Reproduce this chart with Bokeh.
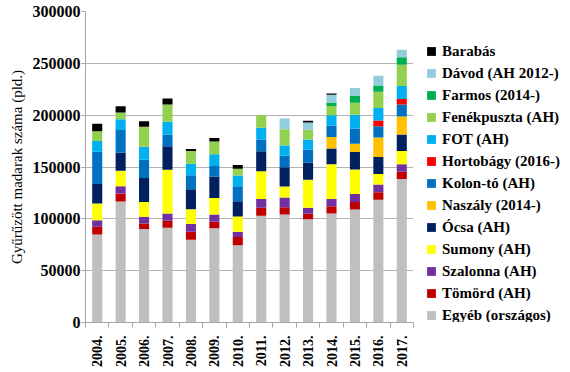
import math
from bokeh.plotting import figure
from bokeh.layouts import row
from bokeh.models import ColumnDataSource, FixedTicker, Legend, LegendItem, Range1d, BasicTickFormatter
from bokeh.embed import file_html
from bokeh.resources import INLINE

years = ["2004.", "2005.", "2006.", "2007.", "2008.", "2009.", "2010.",
         "2011.", "2012.", "2013.", "2014.", "2015.", "2016.", "2017."]

egyeb = [85000, 116700, 90100, 91300, 79800, 91000, 74400, 102900, 104200, 99600, 105100, 109000, 118300, 138500]
tomord = [7300, 7700, 5400, 6800, 7700, 6100, 8000, 7700, 7000, 5400, 7100, 7300, 7300, 7000]
szalonna = [6400, 7000, 6400, 7000, 7400, 7100, 5100, 8600, 9300, 5800, 7000, 7700, 7400, 7100]
sumony = [16000, 15100, 14400, 42300, 14400, 16000, 14700, 26600, 10600, 26900, 33400, 23700, 10300, 12800]
ocsa = [19000, 17300, 23100, 22500, 19200, 20500, 14800, 19300, 18600, 16500, 15300, 16700, 16300, 16000]
naszaly = [0, 0, 0, 0, 0, 0, 0, 0, 0, 0, 11100, 8000, 18900, 17300]
kolon = [31000, 21800, 17600, 11200, 13500, 10300, 14400, 11500, 11200, 12800, 11100, 14800, 10900, 11500]
hortobagy = [0, 0, 0, 0, 0, 0, 0, 0, 0, 0, 0, 0, 5500, 5500]
fot = [10500, 10500, 12500, 12500, 11200, 11200, 10300, 11200, 9900, 9500, 9900, 13100, 12100, 12500]
fenek = [9300, 6500, 19300, 16600, 12200, 12500, 6700, 12200, 15700, 9400, 8800, 11600, 15700, 20500]
farmos = [0, 0, 0, 0, 0, 0, 0, 0, 0, 0, 3500, 7000, 5800, 7100]
davod = [0, 0, 0, 0, 0, 0, 0, 0, 10300, 7000, 7300, 7400, 9600, 7300]
barabas = [7100, 6000, 5400, 5800, 1900, 3200, 3500, 0, 0, 1800, 1200, 0, 0, 0]

series_names = ["Egyéb (országos)", "Tömörd (AH)", "Szalonna (AH)", "Sumony (AH)", "Ócsa (AH)",
                "Naszály (2014-)", "Kolon-tó (AH)", "Hortobágy (2016-)", "FOT (AH)",
                "Fenékpuszta (AH)", "Farmos (2014-)", "Dávod (AH 2012-)", "Barabás"]
series_values = [egyeb, tomord, szalonna, sumony, ocsa, naszaly, kolon, hortobagy, fot,
                 fenek, farmos, davod, barabas]
colors = ["#bfbfbf", "#c00000", "#7030a0", "#ffff00", "#002060", "#ffc000", "#0070c0",
          "#ff0000", "#00b0f0", "#92d050", "#00b050", "#92cddc", "#000000"]

y_ticks = [0, 50000, 100000, 150000, 200000, 250000, 300000]

keys = ["s%d" % i for i in range(len(series_names))]
data = {"x": list(range(len(years)))}
for k, v in zip(keys, series_values):
    data[k] = v
source = ColumnDataSource(data)

H = 370
chart = figure(width=418, height=H, output_backend="svg", toolbar_location=None,
               x_range=Range1d(-0.5, len(years) - 0.5), y_range=Range1d(0, 300000),
               min_border_left=85, min_border_right=5, min_border_top=11, min_border_bottom=46)
chart.outline_line_color = None
chart.background_fill_color = "white"
chart.border_fill_color = "white"

chart.vbar_stack(keys, x="x", width=0.43, source=source, color=colors, line_color=None)

# x axis
chart.xaxis.ticker = FixedTicker(ticks=list(range(len(years))),
                                 minor_ticks=[i - 0.5 for i in range(len(years) + 1)])
chart.xaxis.major_label_overrides = {i: y for i, y in enumerate(years)}
chart.xaxis.major_label_orientation = math.pi / 2
chart.xaxis.major_tick_line_color = None
chart.xaxis.minor_tick_line_color = "#a6a6a6"
chart.xaxis.minor_tick_out = 5
chart.xaxis.minor_tick_in = 0
chart.xaxis.axis_line_color = "#a6a6a6"
chart.xaxis.major_label_text_font = "Liberation Serif"
chart.xaxis.major_label_text_font_style = "bold"
chart.xaxis.major_label_text_font_size = "14px"
chart.xaxis.major_label_text_color = "#000000"
chart.xaxis.major_label_standoff = 7
chart.xgrid.grid_line_color = None

# y axis
chart.yaxis.ticker = FixedTicker(ticks=y_ticks)
chart.yaxis.formatter = BasicTickFormatter(use_scientific=False)
chart.yaxis.axis_line_color = "#a6a6a6"
chart.yaxis.major_tick_line_color = "#a6a6a6"
chart.yaxis.major_tick_out = 4
chart.yaxis.major_tick_in = 0
chart.yaxis.minor_tick_line_color = None
chart.yaxis.major_label_text_font = "Liberation Serif"
chart.yaxis.major_label_text_font_style = "bold"
chart.yaxis.major_label_text_font_size = "16px"
chart.yaxis.major_label_text_color = "#000000"
chart.yaxis.major_label_standoff = 1
chart.yaxis.axis_label = "Gyűrűzött madarak száma (pld.)"
chart.yaxis.axis_label_text_font = "Liberation Serif"
chart.yaxis.axis_label_text_font_style = "normal"
chart.yaxis.axis_label_text_font_size = "15px"
chart.yaxis.axis_label_text_color = "#000000"
chart.yaxis.axis_label_standoff = 5
chart.ygrid.grid_line_color = "#b3b3b3"
chart.ygrid.grid_line_width = 1

# legend panel: square markers, top item is the last series
lp = figure(width=148, height=H, output_backend="svg", toolbar_location=None,
            x_range=Range1d(0, 1), y_range=Range1d(0, 1),
            x_axis_type=None, y_axis_type=None, min_border=0)
lp.outline_line_color = None
lp.xgrid.grid_line_color = None
lp.ygrid.grid_line_color = None
leg_items = []
for name, col, k in reversed(list(zip(series_names, colors, keys))):
    r = lp.scatter(x="x", y=k, source=source, marker="square", color=col, line_color=None,
                   visible=False)
    leg_items.append(LegendItem(label=name, renderers=[r]))
legend = Legend(items=leg_items, location=(2, -4), orientation="vertical",
                glyph_width=22, glyph_height=22, label_height=22, spacing=0,
                label_standoff=-3, padding=0, margin=0,
                border_line_color=None, background_fill_alpha=0,
                label_text_font="Liberation Serif", label_text_font_style="bold",
                label_text_font_size="15px", label_text_color="#000000")
lp.add_layout(legend, "center")

p = row(chart, lp, spacing=0)

open("out.html", "w").write(file_html(p, INLINE))
